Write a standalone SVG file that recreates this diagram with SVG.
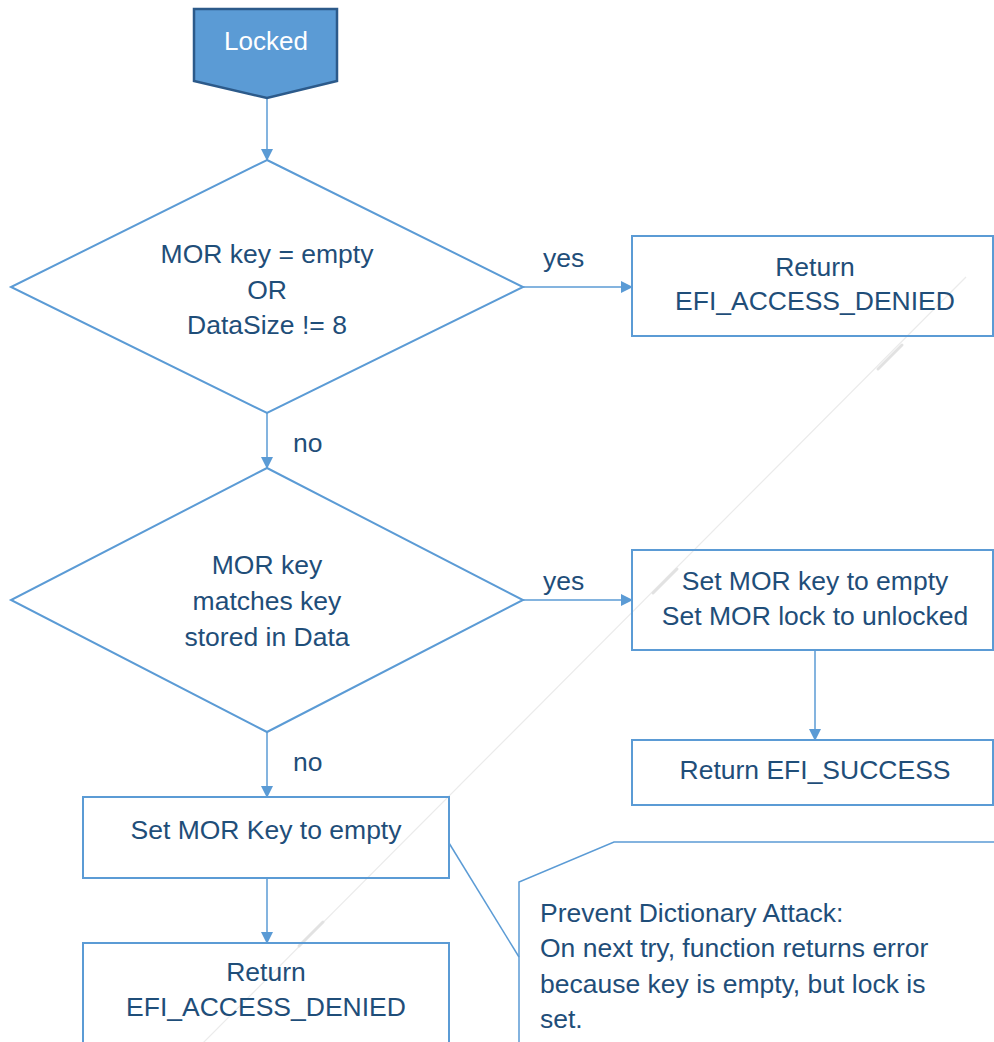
<svg xmlns="http://www.w3.org/2000/svg" width="994" height="1042" viewBox="0 0 994 1042">
<defs>
<marker id="ah" markerWidth="12" markerHeight="12" refX="11" refY="6" orient="auto" markerUnits="userSpaceOnUse">
<path d="M0,0 L12,6 L0,12 Z" fill="#5B9BD5"/>
</marker>
<style>
.t{font-family:"Liberation Sans",Arial,sans-serif;font-size:26.5px;fill:#1F4E79;text-anchor:middle}
.l{font-family:"Liberation Sans",Arial,sans-serif;font-size:26.5px;fill:#1F4E79}
.s{fill:none;stroke:#5B9BD5;stroke-width:2}
.c{fill:none;stroke:#5B9BD5;stroke-width:1.5}
.g{stroke:#e2e2e2;stroke-width:3;stroke-linecap:round}
</style>
</defs>
<rect width="994" height="1042" fill="#ffffff"/>
<line x1="966" y1="277" x2="203" y2="1043" stroke="#ebebeb" stroke-width="1.2"/>
<line class="g" x1="902" y1="345" x2="878" y2="369"/>
<line class="g" x1="677" y1="569" x2="653" y2="593"/>
<line class="g" x1="323" y1="922" x2="299" y2="946"/>
<g id="connectors">
<line class="c" x1="267" y1="99" x2="267" y2="160" marker-end="url(#ah)"/>
<line class="c" x1="523" y1="287" x2="632" y2="287" marker-end="url(#ah)"/>
<line class="c" x1="267" y1="413" x2="267" y2="468" marker-end="url(#ah)"/>
<line class="c" x1="523" y1="600" x2="632" y2="600" marker-end="url(#ah)"/>
<line class="c" x1="815" y1="650" x2="815" y2="740" marker-end="url(#ah)"/>
<line class="c" x1="267" y1="732" x2="267" y2="797" marker-end="url(#ah)"/>
<line class="c" x1="267" y1="878" x2="267" y2="943" marker-end="url(#ah)"/>
<line class="c" x1="449" y1="843" x2="519" y2="957"/>
<text class="l" x="543" y="267">yes</text>
<text class="l" x="293" y="452">no</text>
<text class="l" x="543" y="590">yes</text>
<text class="l" x="293" y="771">no</text>
</g>
<g id="locked">
<polygon points="194,9 337,9 337,81 267,98 194,81" fill="#5B9BD5" stroke="#2C5A8A" stroke-width="2.5"/>
<text x="266" y="50" font-family="Liberation Sans, Arial, sans-serif" font-size="26" fill="#ffffff" text-anchor="middle">Locked</text>
</g>
<g id="decision1">
<polygon class="s" points="267,160 523,287 267,413 11,287"/>
<text class="t" x="267" y="263">MOR key = empty</text>
<text class="t" x="267" y="299">OR</text>
<text class="t" x="267" y="334">DataSize != 8</text>
</g>
<g id="denied1">
<rect class="s" x="632" y="236" width="361" height="100"/>
<text class="t" x="815" y="276">Return</text>
<text class="t" x="815" y="310">EFI_ACCESS_DENIED</text>
</g>
<g id="decision2">
<polygon class="s" points="267,468 523,600 267,732 11,600"/>
<text class="t" x="267" y="574">MOR key</text>
<text class="t" x="267" y="610">matches key</text>
<text class="t" x="267" y="646">stored in Data</text>
</g>
<g id="unlock">
<rect class="s" x="632" y="550" width="361" height="100"/>
<text class="t" x="815" y="590">Set MOR key to empty</text>
<text class="t" x="815" y="625">Set MOR lock to unlocked</text>
</g>
<g id="success">
<rect class="s" x="632" y="740" width="361" height="65"/>
<text class="t" x="815" y="779">Return EFI_SUCCESS</text>
</g>
<g id="setempty">
<rect class="s" x="83" y="797" width="366" height="81"/>
<text class="t" x="266" y="839">Set MOR Key to empty</text>
</g>
<g id="denied2">
<rect class="s" x="83" y="943" width="366" height="110"/>
<text class="t" x="266" y="981">Return</text>
<text class="t" x="266" y="1016">EFI_ACCESS_DENIED</text>
</g>
<g id="note">
<path class="c" d="M519,1050 L519,882 L614,842 L1000,842"/>
<text class="l" x="540" y="922">Prevent Dictionary Attack:</text>
<text class="l" x="540" y="957">On next try, function returns error</text>
<text class="l" x="540" y="993">because key is empty, but lock is</text>
<text class="l" x="540" y="1028">set.</text>
</g>
</svg>
